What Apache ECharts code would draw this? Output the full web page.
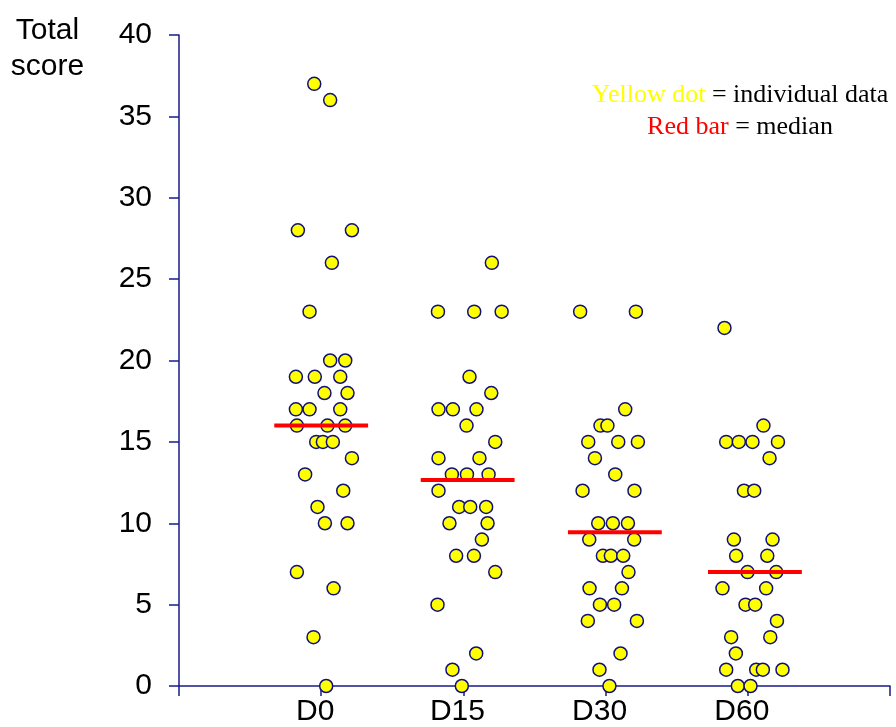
<!DOCTYPE html>
<html>
<head>
<meta charset="utf-8">
<script src="https://cdn.jsdelivr.net/npm/echarts@6/dist/echarts.min.js"></script>
<style>html,body{margin:0;padding:0;background:#fff}#c{width:896px;height:727px}</style>
</head>
<body>
<div id="c"></div>
<script>
// Categories and tick labels
var categories = ['D0', 'D15', 'D30', 'D60'];
var yTicks = [0, 5, 10, 15, 20, 25, 30, 35, 40];

// Individual scores (y) and their horizontal jittered positions (x)
var d0Y = [37,36,28,28,26,23,20,20,19,19,19,18,18,17,17,17,16,16,16,15,15,15,14,13,12,11,10,10,7,6,3,0];
var d0X = [0.951,1.063,0.836,1.216,1.075,0.918,1.063,1.169,0.822,0.955,1.134,1.023,1.185,0.822,0.918,1.134,0.829,1.044,1.169,0.965,1.012,1.082,1.216,0.887,1.155,0.974,1.026,1.185,0.829,1.087,0.946,1.035];

var d15Y = [26,23,23,23,19,18,17,17,17,16,15,14,14,13,13,13,12,11,11,11,10,10,9,8,8,7,5,2,1,0];
var d15X = [2.200,1.821,2.076,2.269,2.043,2.196,1.825,1.926,2.092,2.022,2.224,1.825,2.113,1.919,2.025,2.177,1.825,1.970,2.048,2.160,1.902,2.170,2.130,1.949,2.074,2.224,1.818,2.090,1.923,1.989];

var d30Y = [23,23,17,16,16,15,15,15,14,13,12,12,10,10,10,9,9,8,8,8,7,6,6,5,5,4,4,2,1,0];
var d30X = [2.821,3.213,3.138,2.964,3.013,2.878,3.089,3.227,2.925,3.068,2.838,3.203,2.948,3.051,3.157,2.885,3.201,2.981,3.037,3.124,3.161,2.887,3.115,2.960,3.060,2.875,3.220,3.105,2.957,3.027];

var d60Y = [22,16,15,15,15,15,14,12,12,9,9,8,8,7,7,6,6,5,5,4,3,3,2,1,1,1,1,0,0];
var d60X = [3.836,4.110,3.848,3.937,4.033,4.212,4.153,3.973,4.045,3.902,4.174,3.918,4.137,3.998,4.200,3.822,4.129,3.984,4.052,4.205,3.883,4.158,3.916,3.848,4.059,4.106,4.244,3.930,4.019];

// Medians (red bars): value and bar centre position
var medians = [16, 12.66, 9.45, 7.0];
var medianCenters = [1.0, 2.03, 3.065, 4.05];
var medianHalfWidth = 0.33;

var groupsY = [d0Y, d15Y, d30Y, d60Y];
var groupsX = [d0X, d15X, d30X, d60X];

var points = [];
for (var g = 0; g < groupsY.length; g++) {
  for (var i = 0; i < groupsY[g].length; i++) {
    points.push([groupsX[g][i], groupsY[g][i]]);
  }
}

var series = [{
  type: 'scatter',
  data: points,
  symbol: 'circle',
  symbolSize: 13,
  clip: false,
  z: 3,
  itemStyle: { color: '#ffff00', borderColor: '#10107a', borderWidth: 1.5, opacity: 1 },
  emphasis: { disabled: true }
}];
for (var m = 0; m < medians.length; m++) {
  series.push({
    type: 'line',
    data: [[medianCenters[m] - medianHalfWidth, medians[m]], [medianCenters[m] + medianHalfWidth, medians[m]]],
    symbol: 'none',
    z: 5,
    lineStyle: { color: '#ff0000', width: 4 },
    emphasis: { disabled: true },
    silent: true
  });
}

var axisColor = '#1a1a8a';
var chart = echarts.init(document.getElementById('c'), null, { renderer: 'canvas' });
chart.setOption({
  animation: false,
  backgroundColor: '#ffffff',
  grid: { left: 179, right: 6, top: 35, bottom: 36, containLabel: false },
  xAxis: {
    type: 'value', min: 0, max: 5, interval: 1,
    splitLine: { show: false },
    axisLine: { show: true, onZero: false, lineStyle: { color: axisColor, width: 1.5 } },
    axisTick: { show: true, inside: false, length: 10, lineStyle: { color: axisColor, width: 1.5 } },
    axisLabel: {
      margin: 11, fontSize: 30, color: '#000', fontFamily: 'Liberation Sans, Arial, sans-serif',
      padding: [0, 12, 0, 0],
      showMinLabel: true, showMaxLabel: true,
      formatter: function (v) { var k = Math.round(v); return (k >= 1 && k <= categories.length) ? categories[k - 1] : ''; }
    }
  },
  yAxis: {
    type: 'value', min: yTicks[0], max: yTicks[yTicks.length - 1], interval: 5,
    splitLine: { show: false },
    axisLine: { show: true, onZero: false, lineStyle: { color: axisColor, width: 1.5 } },
    axisTick: { show: true, inside: false, length: 10, lineStyle: { color: axisColor, width: 1.5 } },
    axisLabel: { margin: 27, fontSize: 30, color: '#000', fontFamily: 'Liberation Sans, Arial, sans-serif' }
  },
  graphic: [
    { type: 'text', x: 47.5, y: 31, silent: true,
      style: { text: 'Total', fill: '#000', font: '30px "Liberation Sans", Arial, sans-serif', textAlign: 'center', textVerticalAlign: 'middle' } },
    { type: 'text', x: 47.5, y: 67, silent: true,
      style: { text: 'score', fill: '#000', font: '30px "Liberation Sans", Arial, sans-serif', textAlign: 'center', textVerticalAlign: 'middle' } },
    { type: 'text', x: 740, y: 95, silent: true,
      style: { text: '{y|Yellow dot}{k| = individual data}', textAlign: 'center', textVerticalAlign: 'middle',
        font: '26px "Liberation Serif", "Times New Roman", serif',
        rich: { y: { fill: '#ffff00', fontSize: 26, fontFamily: 'Liberation Serif' }, k: { fill: '#000', fontSize: 26, fontFamily: 'Liberation Serif' } } } },
    { type: 'text', x: 740, y: 127, silent: true,
      style: { text: '{r|Red bar}{k| = median}', textAlign: 'center', textVerticalAlign: 'middle',
        font: '26px "Liberation Serif", "Times New Roman", serif',
        rich: { r: { fill: '#ff0000', fontSize: 26, fontFamily: 'Liberation Serif' }, k: { fill: '#000', fontSize: 26, fontFamily: 'Liberation Serif' } } } }
  ],
  series: series
});
</script>
</body>
</html>
